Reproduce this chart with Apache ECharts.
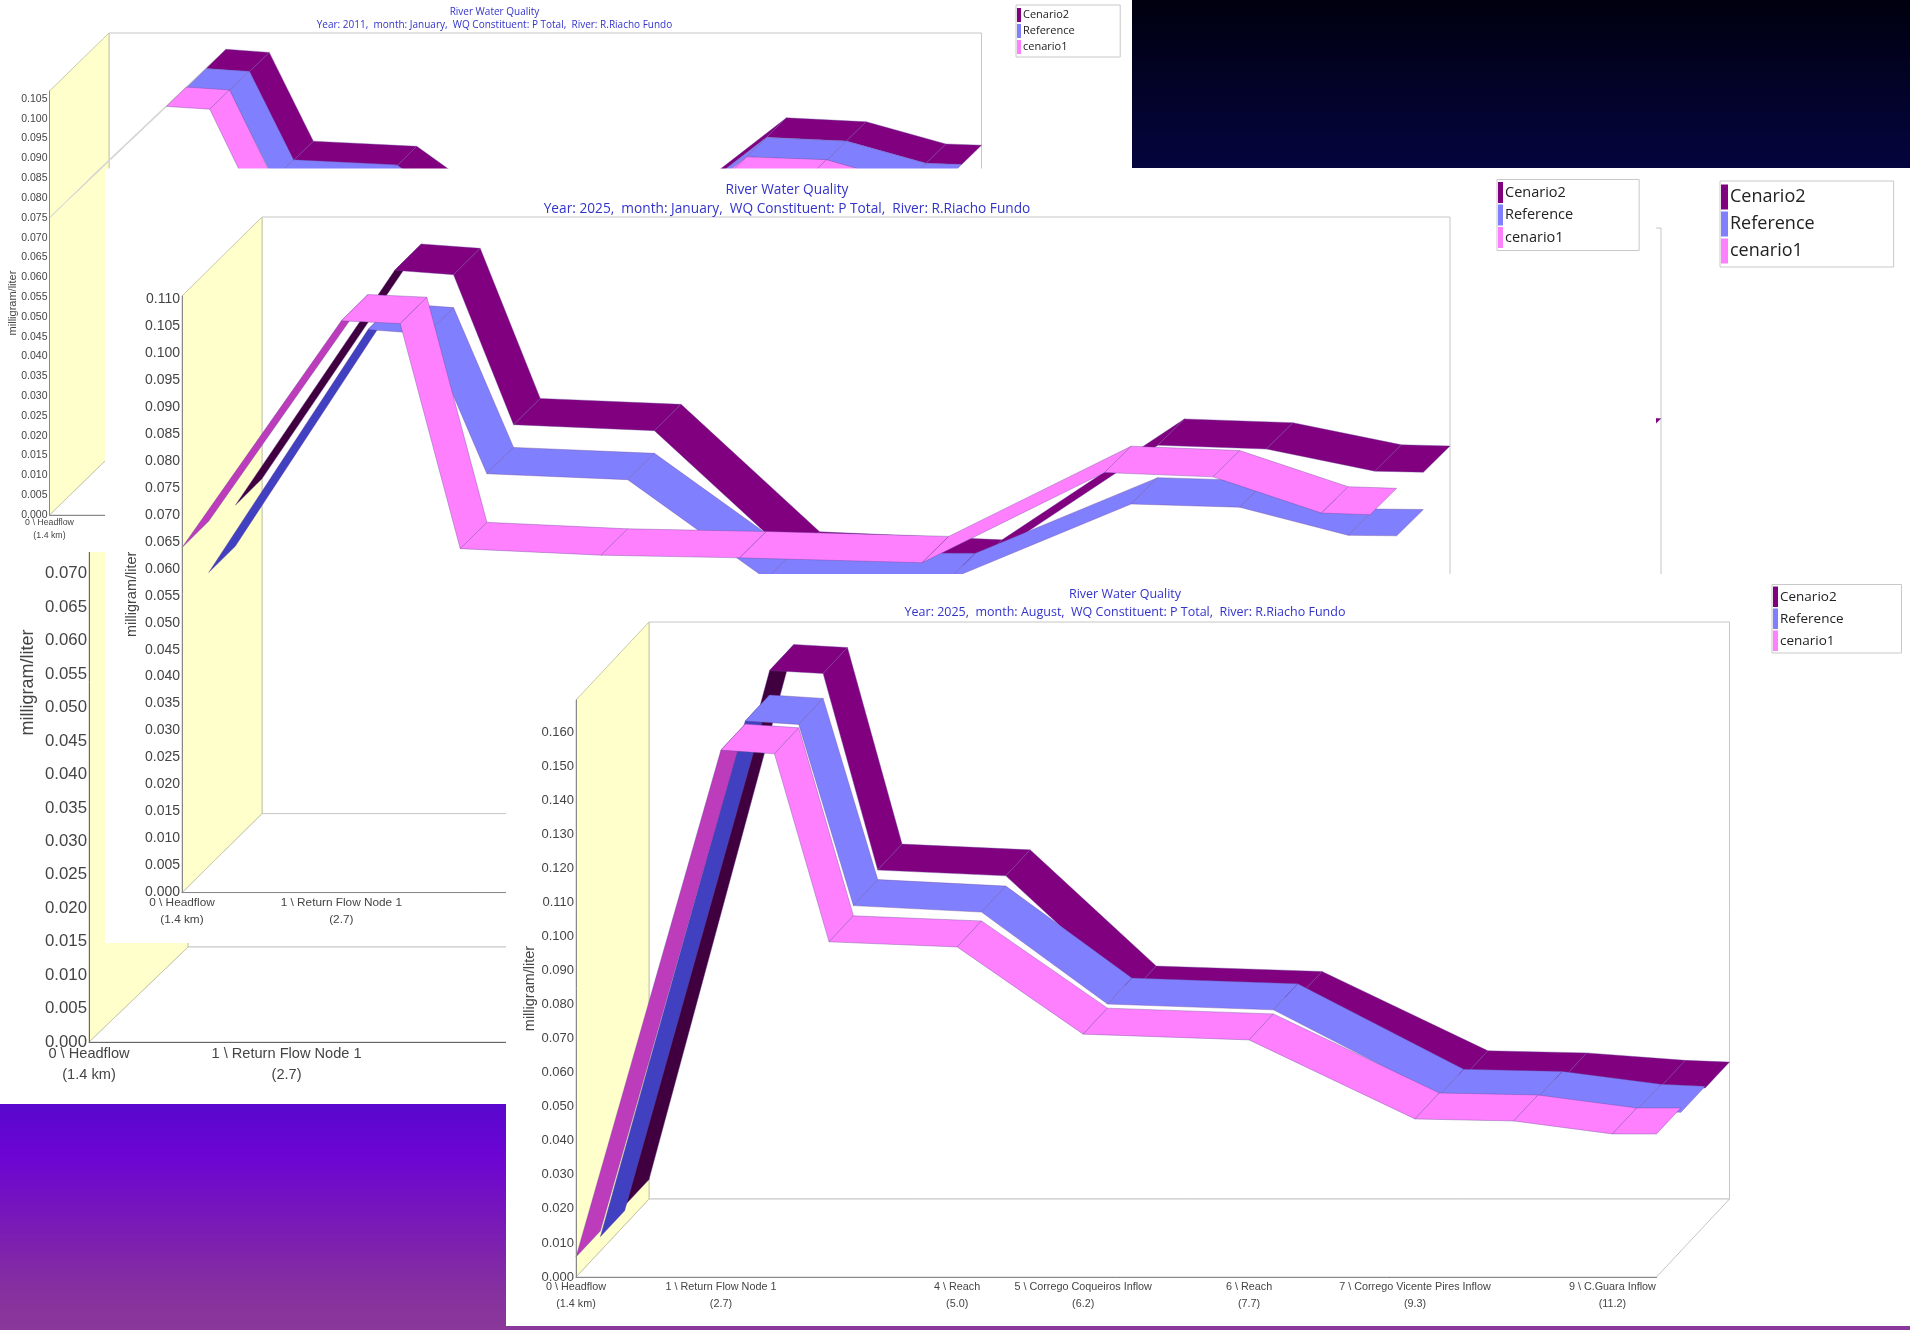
<!DOCTYPE html>
<html><head><meta charset="utf-8">
<style>html,body{margin:0;padding:0;background:#000;overflow:hidden}#c{width:1910px;height:1330px}</style>
<script src="https://cdn.jsdelivr.net/npm/echarts@6/dist/echarts.min.js"></script>
</head><body><div id="c"></div>
<script>
// Station positions along the river (km-like axis)
const reachKm = [1.4, 2.78, 3.29, 3.81, 5.03, 6.23, 7.81, 9.39, 10.33, 11.27, 11.69];
const labelKm = [1.4, 2.78, 5.03, 6.23, 7.81, 9.39, 11.27];
const labelText = ['0 \\ Headflow\n(1.4 km)', '1 \\ Return Flow Node 1\n(2.7)', '4 \\ Reach\n(5.0)', '5 \\ Corrego Coqueiros Inflow\n(6.2)', '6 \\ Reach\n(7.7)', '7 \\ Corrego Vicente Pires Inflow\n(9.3)', '9 \\ C.Guara Inflow\n(11.2)'];
const seriesNames = ['Cenario2', 'Reference', 'cenario1'];

// Year 2011, January
const c2_2011 = [.0750, .1029, .1021, .0797, .0784, .0600, .0594, .0856, .0846, .0790, .0787];
const ref_2011 = [.0750, .1029, .1022, .0799, .0786, .0600, .0594, .0855, .0846, .0790, .0787];
const c1_2011 = [.0750, .1031, .1024, .0795, .0785, .0600, .0594, .0855, .0848, .0790, .0787];
// Enlarged copy of 2011, January
const c2_big = [.0750, .1029, .1021, .0797, .0784, .0600, .0594, .0856, .0846, .0795, .0790];
const ref_big = [.0750, .1029, .1022, .0799, .0786, .0600, .0594, .0855, .0846, .0790, .0787];
const c1_big = [.0750, .1031, .1024, .0795, .0785, .0600, .0594, .0855, .0848, .0790, .0787];
// Year 2025, January
const c2_jan = [.0620, .1055, .1047, .0769, .0758, .0522, .0507, .0731, .0724, .0683, .0681];
const ref_jan = [.0544, .0994, .0986, .0727, .0716, .0532, .0531, .0671, .0665, .0613, .0612];
const c1_jan = [.0639, .1059, .1054, .0637, .0625, .0620, .0611, .0778, .0770, .0703, .0700];
// Year 2025, August
const c2_aug = [.0057, .1628, .1619, .1042, .1025, .0684, .0668, .0435, .0429, .0407, .0402];
const ref_aug = [.0042, .1556, .1546, .1014, .0995, .0725, .0708, .0457, .0451, .0413, .0407];
const c1_aug = [.0059, .1547, .1536, .0984, .0969, .0713, .0696, .0464, .0458, .0420, .0420];

const ticks105 = [0, .005, .01, .015, .02, .025, .03, .035, .04, .045, .05, .055, .06, .065, .07, .075, .08, .085, .09, .095, .1, .105];
const ticks110 = [0, .005, .01, .015, .02, .025, .03, .035, .04, .045, .05, .055, .06, .065, .07, .075, .08, .085, .09, .095, .1, .105, .11];
const ticks160 = [0, .01, .02, .03, .04, .05, .06, .07, .08, .09, .1, .11, .12, .13, .14, .15, .16];

const flat = {Cenario2: '#800080', Reference: '#8080FF', cenario1: '#FF80FF'};
const under = {Cenario2: '#400040', Reference: '#4040C0', cenario1: '#BC3CBC'};
const titleColor = '#3333CC';
const sans = '"Liberation Sans", Arial, sans-serif';
const ui = '"Open Sans", "Noto Sans", sans-serif';

const windows = [
 {z: 10, rect: [0, 168, 1910, 936], x0: 89, x1: 1562, yTop: 323, yFloor: 1042, top: .1075, dx: 99, dy: -95,
  data: [c2_big, ref_big, c1_big], ticks: ticks110, tickFont: 16.8, xFont: 14.6, xLH: 21, nameFont: 18, nameGap: 52, axisColor: '#666',
  year: 'Year: 2011,  month: January,  WQ Constituent: P Total,  River: R.Riacho Fundo', tx: 0, ty: 0, tf: 0,
  legend: {x: 1720, y: 181, iw: 7, ih: 25, gap: 2, font: 18, padT: 3.5, padR: 79, textT: 4}},
 {z: 20, rect: [0, 0, 1132, 552], x0: 49.5, x1: 922, yTop: 91, yFloor: 515, top: .107, dx: 59.5, dy: -58,
  data: [c2_2011, ref_2011, c1_2011], ticks: ticks105, tickFont: 10.5, xFont: 8.8, xLH: 13, nameFont: 11, nameGap: 31, axisColor: '#888',
  year: 'Year: 2011,  month: January,  WQ Constituent: P Total,  River: R.Riacho Fundo', tx: 494.5, ty: 7, tf: 10, tf2: 10, tgap: 3,
  legend: {x: 1016, y: 5, iw: 4, ih: 14, gap: 2, font: 11, padT: 3, padR: 45.5, textT: 2}},
 {z: 30, rect: [105, 168.5, 1551, 774.5], x0: 182, x1: 1370, yTop: 296, yFloor: 892.6, top: .1105, dx: 80, dy: -79,
  data: [c2_jan, ref_jan, c1_jan], ticks: ticks110, tickFont: 14, xFont: 11.8, xLH: 17, nameFont: 14.5, nameGap: 43, axisColor: '#888',
  year: 'Year: 2025,  month: January,  WQ Constituent: P Total,  River: R.Riacho Fundo', tx: 787, ty: 183, tf: 13.7, tf2: 13.7, tgap: 5,
  legend: {x: 1497, y: 179.5, iw: 5, ih: 21, gap: 1.5, font: 14.5, padT: 2.5, padR: 66, textT: 2}},
 {z: 40, rect: [506, 574, 1404, 752], x0: 576, x1: 1656.5, yTop: 700, yFloor: 1277, top: .1694, dx: 73, dy: -78,
  data: [c2_aug, ref_aug, c1_aug], ticks: ticks160, tickFont: 13, xFont: 10.8, xLH: 17, nameFont: 14.5, nameGap: 39, axisColor: '#888',
  year: 'Year: 2025,  month: August,  WQ Constituent: P Total,  River: R.Riacho Fundo', tx: 1125, ty: 588, tf: 12.5, tf2: 12.5, tgap: 5,
  legend: {x: 1772, y: 584.5, iw: 5, ih: 20.5, gap: 1.5, font: 13.5, padT: 2, padR: 58, textT: 2}}
];

const graphics = [{
  type: 'rect', z: 0, shape: {x: 0, y: 0, width: 1910, height: 1330},
  style: {fill: {type: 'linear', x: 0, y: 0, x2: 0, y2: 1, colorStops: [
    {offset: 0, color: '#00000f'}, {offset: .126, color: '#05053F'},
    {offset: .83, color: '#5808CC'}, {offset: .868, color: '#6C04D4'}, {offset: .925, color: '#7A1CB4'},
    {offset: .97, color: '#86309F'}, {offset: 1, color: '#8A389A'}]}}
}];
const grids = [], xAxes = [], yAxes = [], series = [], titles = [], legends = [];

windows.forEach((w, idx) => {
  graphics.push({type: 'rect', z: w.z, shape: {x: w.rect[0], y: w.rect[1], width: w.rect[2], height: w.rect[3]}, style: {fill: '#fff'}});
  grids.push({left: w.x0, top: w.yTop, width: w.x1 - w.x0, height: w.yFloor - w.yTop, show: false});
  xAxes.push({
    type: 'value', gridIndex: idx, min: reachKm[0], max: reachKm[reachKm.length - 1], z: w.z + 3,
    splitLine: {show: false}, axisTick: {show: false},
    axisLine: {show: true, onZero: false, lineStyle: {color: w.axisColor, width: 1}},
    axisLabel: {show: true, customValues: labelKm, margin: 1.5, hideOverlap: false, color: '#444', fontFamily: sans, fontSize: w.xFont, lineHeight: w.xLH,
      formatter: v => labelText[labelKm.indexOf(v)] || ''}
  });
  yAxes.push({
    type: 'value', gridIndex: idx, min: 0, max: w.top, z: w.z + 3,
    name: 'milligram/liter', nameLocation: 'middle', nameGap: w.nameGap, nameRotate: 90, nameMoveOverlap: false,
    nameTextStyle: {color: '#444', fontFamily: sans, fontSize: w.nameFont},
    splitLine: {show: false}, axisTick: {show: false},
    axisLine: {show: true, onZero: false, lineStyle: {color: w.axisColor, width: 1}},
    axisLabel: {show: true, customValues: w.ticks, margin: 2, color: '#444', fontFamily: sans, fontSize: w.tickFont, formatter: v => v.toFixed(3)}
  });
  // Box: back plane, floor and side wall
  series.push({
    type: 'custom', name: 'frame' + idx, xAxisIndex: idx, yAxisIndex: idx, z: w.z + 1, silent: true,
    data: [[reachKm[reachKm.length - 1], w.top]], encode: {x: 0, y: 1},
    renderItem: (p, api) => {
      const a = api.coord([reachKm[0], 0]), b = api.coord([reachKm[reachKm.length - 1], 0]), c = api.coord([reachKm[0], w.top]);
      const o = q => [q[0] + w.dx, q[1] + w.dy];
      const edge = '#c6c6c6';
      return {type: 'group', children: [
        {type: 'polygon', shape: {points: [o(a), o(b), o([b[0], c[1]]), o(c)]}, style: {fill: '#fff', stroke: edge, lineWidth: 1}},
        {type: 'polygon', shape: {points: [a, b, o(b), o(a)]}, style: {fill: '#fff', stroke: edge, lineWidth: 1}},
        {type: 'polygon', shape: {points: [a, o(a), o(c), c]}, style: {fill: '#FFFFCC', stroke: '#c9c9a8', lineWidth: 1}}
      ]};
    }
  });
  // Ribbons, from the back of the box to the front
  seriesNames.forEach((name, k) => {
    const vals = w.data[k];
    const depth = 2 - k;
    const rows = vals.map((v, i) => [reachKm[i], v]);
    series.push({
      type: 'custom', name, xAxisIndex: idx, yAxisIndex: idx, z: w.z + 2, silent: true,
      itemStyle: {color: flat[name]}, data: rows, encode: {x: 0, y: 1},
      renderItem: (p, api) => {
        const i = p.dataIndex;
        if (i >= rows.length - 1) return null;
        const sx = w.dx / 3, sy = w.dy / 3;
        const P = api.coord(rows[i]), Q = api.coord(rows[i + 1]);
        const f = q => [q[0] + depth * sx, q[1] + depth * sy];
        const g = q => [q[0] + (depth + 1) * sx, q[1] + (depth + 1) * sy];
        const ex = Q[0] - P[0], ey = Q[1] - P[1];
        const cross = ex * sy - ey * sx;
        const thick = Math.abs(cross) / Math.hypot(ex, ey);
        const pts = [f(P), f(Q), g(Q), g(P)];
        if (thick < 1.5) return {type: 'polygon', shape: {points: pts}, style: {fill: 'none', stroke: '#d8d8d4', lineWidth: 1}};
        return {type: 'polygon', shape: {points: pts},
          style: {fill: cross > 0 ? under[name] : flat[name], stroke: 'rgba(105,70,150,0.55)', lineWidth: .7}};
      }
    });
  });
  if (w.tf) titles.push({
    text: 'River Water Quality', subtext: w.year, left: w.tx, top: w.ty, textAlign: 'center', z: w.z + 4, padding: 0, itemGap: w.tgap,
    textStyle: {color: titleColor, fontFamily: ui, fontSize: w.tf, fontWeight: 'normal'},
    subtextStyle: {color: titleColor, fontFamily: ui, fontSize: w.tf2}
  });
  const L = w.legend;
  legends.push({
    show: true, orient: 'vertical', left: L.x, top: L.y, z: w.z + 4, selectedMode: false,
    data: seriesNames, icon: 'rect', itemWidth: L.iw, itemHeight: L.ih, itemGap: L.gap,
    backgroundColor: '#fff', borderColor: '#c8c8c8', borderWidth: 1,
    padding: [L.padT, L.padR, L.padT, 1],
    textStyle: {color: '#222', fontFamily: ui, fontSize: L.font, padding: [L.textT, 0, 0, -3]}
  });
});

const chart = echarts.init(document.getElementById('c'), null, {renderer: 'canvas', width: 1910, height: 1330});
chart.setOption({animation: false, backgroundColor: '#000', title: titles, legend: legends, grid: grids, xAxis: xAxes, yAxis: yAxes, series, graphic: {elements: graphics}});
</script></body></html>
